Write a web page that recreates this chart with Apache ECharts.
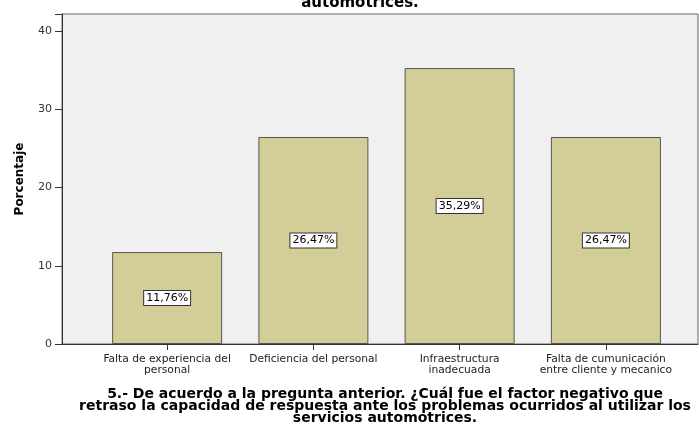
<!DOCTYPE html>
<html>
<head>
<meta charset="utf-8">
<script src="https://cdn.jsdelivr.net/npm/echarts@6/dist/echarts.min.js"></script>
<style>html,body{margin:0;padding:0;background:#fff}#c{width:699px;height:427px}</style>
</head>
<body>
<div id="c"></div>
<script>
var categories = ["Falta de experiencia del\npersonal", "Deficiencia del personal", "Infraestructura\ninadecuada", "Falta de cumunicación\nentre cliente y mecanico"];
var values = [11.76, 26.47, 35.29, 26.47];
var yTicks = [0, 10, 20, 30, 40];
var topTitle = "automotrices.";
var bottomTitle = "5.- De acuerdo a la pregunta anterior. ¿Cuál fue el factor negativo que\nretraso la capacidad de respuesta ante los problemas ocurridos al utilizar los\nservicios automotrices.";

var chart = echarts.init(document.getElementById('c'));
var yMax = 42.2;
chart.setOption({
  animation: false,
  textStyle: {fontFamily: 'DejaVu Sans, sans-serif'},
  title: [
    {text: topTitle, left: 355, top: -9, textAlign: 'center',
     textStyle: {fontFamily: 'DejaVu Sans', fontWeight: 'bold', fontSize: 15, color: '#000'}},
    {text: bottomTitle, left: 380, top: 383, textAlign: 'center',
     textStyle: {fontFamily: 'DejaVu Sans', fontWeight: 'bold', fontSize: 14, lineHeight: 12, color: '#000'}}
  ],
  grid: [
    {left: 62, right: 1, top: 14, bottom: 83, show: true, backgroundColor: '#f0f0f0', borderColor: '#666', borderWidth: 1},
    {left: 94, right: 20, top: 14, bottom: 83}
  ],
  xAxis: [
    {type: 'category', gridIndex: 0, data: ['a'], axisLine: {show: true, lineStyle: {color: '#333'}},
     axisTick: {show: false}, axisLabel: {show: false}},
    {type: 'category', gridIndex: 1, data: categories,
     axisLine: {show: false},
     axisTick: {show: true, alignWithLabel: true, length: 6, lineStyle: {color: '#333'}},
     axisLabel: {fontSize: 10.7, color: '#222', lineHeight: 11, margin: 10, interval: 0}}
  ],
  yAxis: [
    {type: 'value', gridIndex: 0, min: 0, max: yMax, interval: 10,
     axisLine: {show: true, lineStyle: {color: '#333'}},
     axisTick: {show: true, inside: false, length: 7, lineStyle: {color: '#333'}},
     axisLabel: {fontSize: 11, color: '#333', margin: 10,
       formatter: function (v) { return yTicks.indexOf(v) >= 0 ? String(v) : ''; }},
     splitLine: {show: false},
     name: 'Porcentaje', nameLocation: 'middle', nameGap: 36,
     nameTextStyle: {fontFamily: 'DejaVu Sans', fontWeight: 'bold', fontSize: 12, color: '#000'}},
    {type: 'value', gridIndex: 1, min: 0, max: yMax, interval: 10, show: false, splitLine: {show: false}}
  ],
  series: [{
    type: 'bar', xAxisIndex: 1, yAxisIndex: 1, data: values, barWidth: 110,
    itemStyle: {color: '#d3ce98', borderColor: '#555', borderWidth: 1},
    label: {show: true, position: 'inside', color: '#000', fontSize: 11,
      backgroundColor: '#fff', borderColor: '#333', borderWidth: 1, padding: [2, 2, 1, 2],
      formatter: function (p) { return p.value.toFixed(2).replace('.', ',') + '%'; }}
  }]
});
</script>
</body>
</html>
